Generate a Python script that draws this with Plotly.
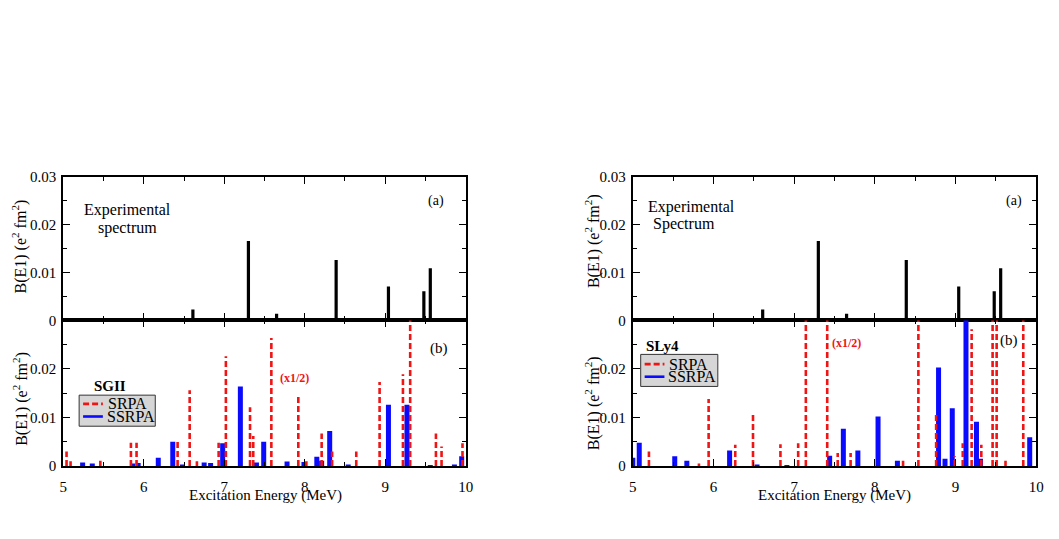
import plotly.graph_objects as go

W, H = 1059, 539

# ---------------- data ----------------
EXP_E = [6.61, 7.30, 7.65, 8.39, 9.04, 9.48, 9.56]
EXP_B = [0.0023, 0.0166, 0.0014, 0.0126, 0.0071, 0.0061, 0.0109]

SGII_SRPA_E = [5.04, 5.09, 5.46, 5.84, 5.91, 6.42, 6.57, 6.66, 6.93, 7.02, 7.32, 7.36,
               7.585, 7.92, 8.02, 8.21, 8.34, 8.64, 8.93, 9.22, 9.31, 9.63, 9.70, 9.96]
SGII_SRPA_B = [0.0030, 0.0010, 0.0011, 0.0048, 0.0048, 0.0054, 0.0156, 0.0010, 0.0048, 0.0226,
               0.0121, 0.0062, 0.0264, 0.0146, 0.0010, 0.0067, 0.0030, 0.0030, 0.0173, 0.0189,
               0.0340, 0.0067, 0.0040, 0.0047]

SGII_SSRPA_E = [5.24, 5.36, 5.86, 5.93, 6.18, 6.36, 6.48, 6.75, 6.83, 6.98, 7.20, 7.40,
                7.49, 7.78, 7.99, 8.15, 8.21, 8.31, 8.54, 9.04, 9.27, 9.56, 9.86, 9.95]
SGII_SSRPA_B = [0.0007, 0.0005, 0.0005, 0.0006, 0.0017, 0.0050, 0.0003, 0.0007, 0.0006, 0.0047,
                0.0164, 0.0007, 0.0050, 0.0009, 0.0008, 0.0019, 0.0011, 0.0072, 0.0003, 0.0126,
                0.0126, 0.0002, 0.0003, 0.0020]

SLY4_SRPA_E = [5.20, 5.82, 5.94, 6.27, 6.49, 6.83, 7.05, 7.145, 7.41, 7.54, 7.70, 8.35,
               8.54, 8.76, 8.99, 9.09, 9.20, 9.32, 9.46, 9.51, 9.62, 9.84]
SLY4_SRPA_B = [0.0030, 0.0005, 0.0138, 0.0044, 0.0107, 0.0045, 0.0047, 0.0340, 0.0340, 0.0027,
               0.0027, 0.0011, 0.0340, 0.0111, 0.0020, 0.0047, 0.0282, 0.0044, 0.0340, 0.0340,
               0.0011, 0.0340]

SLY4_SSRPA_E = [5.00, 5.08, 5.52, 5.67, 6.20, 6.54, 6.91, 7.44, 7.61, 7.79, 8.04, 8.28,
                8.79, 8.87, 8.96, 9.13, 9.26, 9.31, 9.92]
SLY4_SSRPA_B = [0.0017, 0.0048, 0.0020, 0.0011, 0.0032, 0.0003, 0.0002, 0.0021, 0.0077, 0.0032,
                0.0102, 0.0011, 0.0203, 0.0015, 0.0119, 0.0310, 0.0091, 0.0015, 0.0059]

X_TICKS = [5, 6, 7, 8, 9, 10]
Y_TICKS_TOP = [0, 0.01, 0.02, 0.03]
Y_TICKS_BOT = [0, 0.01, 0.02]

RED = "#f01414"
BLUE = "#0a0aff"
FONT = "Liberation Serif"


def px(x):
    return x / W


def py(y):
    return 1 - y / H


def segs(E, B):
    xs, ys = [], []
    for e, b in zip(E, B):
        xs += [e, e, None]
        ys += [0, b, None]
    return xs, ys


fig = go.Figure()


def add_stems(E, B, xa, ya, color, width, dash=None):
    xs, ys = segs(E, B)
    fig.add_trace(go.Scatter(x=xs, y=ys, mode="lines", xaxis=xa, yaxis=ya,
                             line=dict(color=color, width=width, dash=dash),
                             showlegend=False, hoverinfo="skip"))


# left figure (SGII)
add_stems(EXP_E, EXP_B, "x", "y", "black", 3.2)
add_stems(SGII_SSRPA_E, SGII_SSRPA_B, "x2", "y2", BLUE, 5)
add_stems(SGII_SRPA_E, SGII_SRPA_B, "x2", "y2", RED, 2.6, "6px,3px")
# right figure (SLy4)
add_stems(EXP_E, EXP_B, "x3", "y3", "black", 3.2)
add_stems(SLY4_SSRPA_E, SLY4_SSRPA_B, "x4", "y4", BLUE, 5)
add_stems(SLY4_SRPA_E, SLY4_SRPA_B, "x4", "y4", RED, 2.6, "6px,3px")

TOP_DOM = [py(322), py(174)]
BOT_DOM = [py(472), py(322)]
LEFT_DOM = [px(60), px(467)]
RIGHT_DOM = [px(636), px(1044)]

tickfont = dict(family=FONT, size=15, color="black")


def xax(domain, anchor, labels):
    return dict(domain=domain, anchor=anchor, range=[5, 10], tickvals=X_TICKS,
                showticklabels=labels, ticks="inside", ticklen=7, tickwidth=1,
                tickcolor="black", showline=True, linecolor="black", linewidth=2,
                mirror="ticks", showgrid=False, zeroline=False, tickfont=tickfont,
                ticklabelstandoff=6,
                minor=dict(ticks="inside", dtick=0.5, ticklen=4, tickcolor="black",
                           showgrid=False))


def yax(domain, anchor, tv):
    return dict(domain=domain, anchor=anchor, range=[0, 0.03], tickvals=tv,
                ticktext=[("%g" % v) for v in tv], ticks="inside", ticklen=7,
                tickwidth=1, tickcolor="black", showline=True, linecolor="black",
                linewidth=2, mirror="ticks", showgrid=False, zeroline=False,
                tickfont=tickfont, ticklabelstandoff=2,
                minor=dict(ticks="inside", dtick=0.005, ticklen=4, tickcolor="black",
                           showgrid=False))


fig.update_layout(
    width=W, height=H, margin=dict(l=0, r=0, t=0, b=0),
    paper_bgcolor="white", plot_bgcolor="white", showlegend=False,
    xaxis=xax(LEFT_DOM, "y", False),
    yaxis=yax(TOP_DOM, "x", Y_TICKS_TOP),
    xaxis2=xax(LEFT_DOM, "y2", True),
    yaxis2=yax(BOT_DOM, "x2", Y_TICKS_BOT),
    xaxis3=xax(RIGHT_DOM, "y3", False),
    yaxis3=yax(TOP_DOM, "x3", Y_TICKS_TOP),
    xaxis4=xax(RIGHT_DOM, "y4", True),
    yaxis4=yax(BOT_DOM, "x4", Y_TICKS_BOT),
)

ann = []


def text(x, y, s, size=15, color="black", bold=False, angle=0, xanchor="center"):
    if bold:
        s = "<b>" + s + "</b>"
    ann.append(dict(x=px(x), y=py(y), xref="paper", yref="paper", text=s,
                    showarrow=False, xanchor=xanchor, yanchor="middle",
                    textangle=angle, font=dict(family=FONT, size=size, color=color)))


ylab = "B(E1) (e<sup>2</sup> fm<sup>2</sup>)"
# left figure
text(16, 246, ylab, 16, angle=-90)
text(16, 403, ylab, 16, angle=-90)
text(125, 208, "Experimental", 16)
text(125, 227, "spectrum", 16)
text(437, 199, "(a)", 14)
text(440, 351, "(b)", 15)
text(294, 381, "(x1/2)", 12, RED, bold=True)
text(107, 390, "SGII", 15, bold=True)
text(264, 502, "Excitation Energy (MeV)", 15)
# right figure
text(596, 240, ylab, 16, angle=-90)
text(596, 407, ylab, 16, angle=-90)
text(695, 205, "Experimental", 16)
text(688, 223, "Spectrum", 16)
text(1022, 199, "(a)", 14)
text(1017, 343, "(b)", 15)
text(852, 345, "(x1/2)", 12, RED, bold=True)
text(666, 348, "SLy4", 15, bold=True)
text(840, 502, "Excitation Energy (MeV)", 15)

shapes = []


def legend_box(x0, x1, y0, y1, ya, yb):
    shapes.append(dict(type="rect", xref="paper", yref="paper", x0=px(x0), x1=px(x1),
                       y0=py(y1), y1=py(y0), fillcolor="#d6d6d6",
                       line=dict(color="#333333", width=1)))
    shapes.append(dict(type="line", xref="paper", yref="paper", x0=px(x0 + 4), x1=px(x0 + 24),
                       y0=py(ya), y1=py(ya), line=dict(color=RED, width=2.6, dash="6px,3px")))
    shapes.append(dict(type="line", xref="paper", yref="paper", x0=px(x0 + 4), x1=px(x0 + 24),
                       y0=py(yb), y1=py(yb), line=dict(color=BLUE, width=2.6)))
    text(x0 + 27, ya, "SRPA", 16, xanchor="left")
    text(x0 + 26, yb, "SSRPA", 16, xanchor="left")


legend_box(76, 153, 399, 431, 408, 421)
legend_box(644, 722, 357, 390, 367, 380)

fig.update_layout(annotations=ann, shapes=shapes)
fig.write_html("out.html")
